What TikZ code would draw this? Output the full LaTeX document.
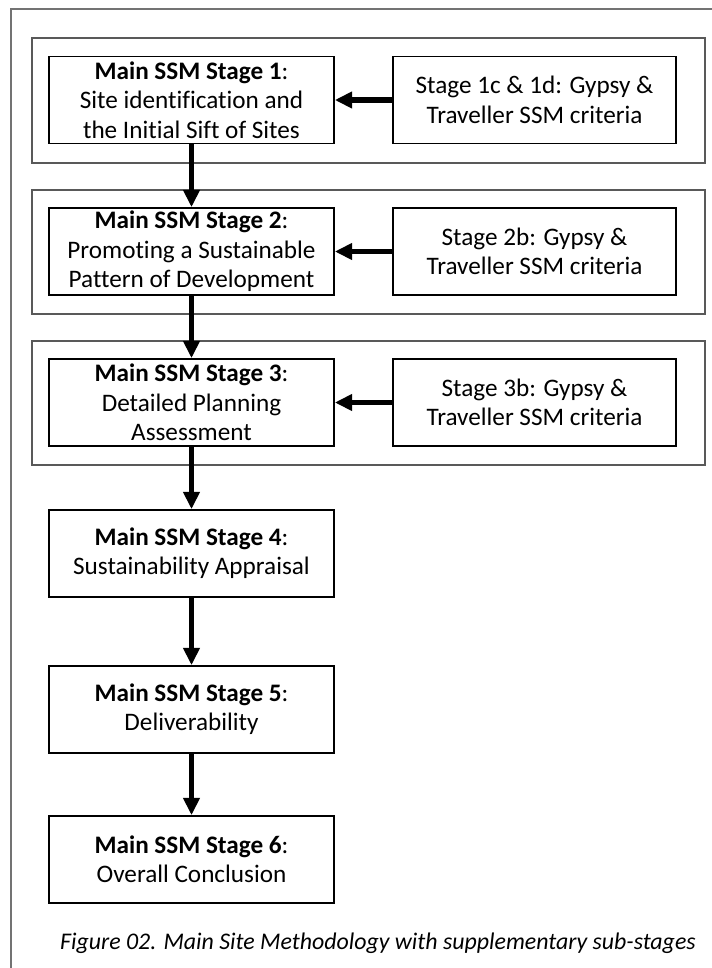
\documentclass[tikz,border=0pt]{standalone}
\usepackage{fontspec}
\setmainfont{Carlito}[Ligatures=NoCommon]
\usetikzlibrary{arrows.meta}

\begin{document}
\begin{tikzpicture}[x=0.75pt,y=-0.75pt,
  stagebox/.style={draw=black,line width=1.3pt,minimum width=213.75pt,minimum height=65.25pt,align=center,inner sep=0pt,font=\fontsize{18.9}{22}\selectfont},
  groupbox/.style={draw=black!65,line width=0.9pt},
  flow/.style={line width=4pt,-{Triangle[width=12pt,length=13pt]}}]
\useasboundingbox (0,0) rectangle (712,968);
\draw[black!55,line width=0.8pt] (11,968) -- (11,9) -- (712,9);
\draw[groupbox] (32,38) rectangle (705,163);
\draw[groupbox] (32,190) rectangle (705,314);
\draw[groupbox] (32,341) rectangle (705,465);
\node[stagebox] (main1) at (191.5,100) {\textbf{Main SSM Stage 1}:\\Site identification and\\the Initial Sift of Sites};
\node[stagebox,minimum width=212.25pt] (gt1) at (534.5,100) {Stage 1c \& 1d: Gypsy \&\\Traveller SSM criteria};
\node[stagebox] (main2) at (191.5,251.5) {\textbf{Main SSM Stage 2}:\\Promoting a Sustainable\\Pattern of Development};
\node[stagebox,minimum width=212.25pt] (gt2) at (534.5,251.5) {Stage 2b: Gypsy \&\\Traveller SSM criteria};
\node[stagebox] (main3) at (191.5,402.5) {\textbf{Main SSM Stage 3}:\\Detailed Planning\\Assessment};
\node[stagebox,minimum width=212.25pt] (gt3) at (534.5,402.5) {Stage 3b: Gypsy \&\\Traveller SSM criteria};
\node[stagebox] (main4) at (191.5,553.5) {\textbf{Main SSM Stage 4}:\\Sustainability Appraisal};
\node[stagebox] (main5) at (191.5,709.5) {\textbf{Main SSM Stage 5}:\\Deliverability};
\node[stagebox] (main6) at (191.5,859.5) {\textbf{Main SSM Stage 6}:\\Overall Conclusion};
\draw[flow] (gt1) -- (main1);
\draw[flow] (gt2) -- (main2);
\draw[flow] (gt3) -- (main3);
\draw[flow] (main1) -- (main2);
\draw[flow] (main2) -- (main3);
\draw[flow] (main3) -- (main4);
\draw[flow] (main4) -- (main5);
\draw[flow] (main5) -- (main6);
\node[font=\fontsize{17.9}{21}\selectfont\itshape] (caption) at (378,943) {Figure 02. Main Site Methodology with supplementary sub-stages};
\end{tikzpicture}
\end{document}
